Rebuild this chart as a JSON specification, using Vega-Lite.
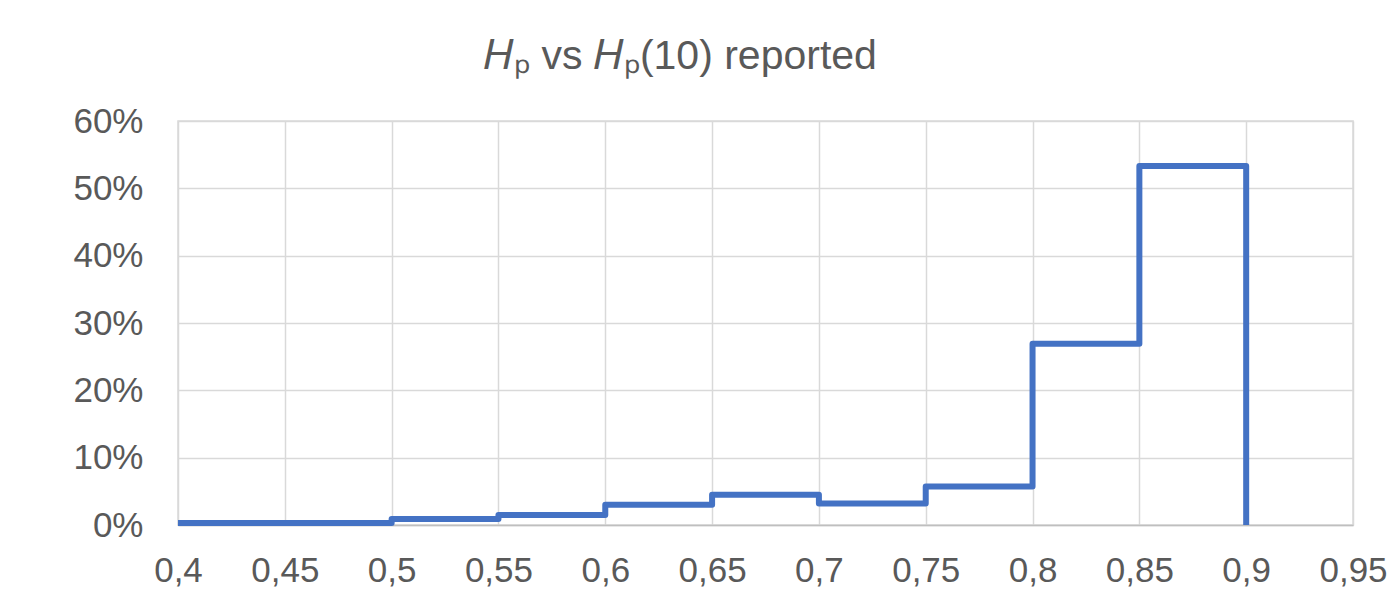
{
  "$schema": "https://vega.github.io/schema/vega-lite/v6.json",
  "width": 1175,
  "height": 404,
  "autosize": "none",
  "padding": {"left": 178, "top": 121, "right": 34, "bottom": 78},
  "background": "white",
  "title": {
    "text": "𝐻ₚ vs 𝐻ₚ(10) reported",
    "font": "Liberation Sans",
    "fontSize": 41,
    "fontWeight": "normal",
    "color": "#595959",
    "anchor": "middle",
    "frame": "group",
    "baseline": "alphabetic",
    "offset": 50,
    "dx": -85,
    "dy": 56
  },
  "data": {
    "values": [
      {"h": 0.40, "share": 0.003},
      {"h": 0.50, "share": 0.009},
      {"h": 0.55, "share": 0.015},
      {"h": 0.60, "share": 0.030},
      {"h": 0.65, "share": 0.045},
      {"h": 0.70, "share": 0.032},
      {"h": 0.75, "share": 0.057},
      {"h": 0.80, "share": 0.269},
      {"h": 0.85, "share": 0.533},
      {"h": 0.90, "share": 0.0}
    ]
  },
  "mark": {"type": "line", "interpolate": "step-after", "color": "#4472C4", "strokeWidth": 6, "strokeJoin": "round", "clip": false},
  "encoding": {
    "x": {
      "field": "h",
      "type": "quantitative",
      "scale": {"domain": [0.4, 0.95], "nice": false, "zero": false},
      "axis": {
        "title": null,
        "values": [0.4, 0.45, 0.5, 0.55, 0.6, 0.65, 0.7, 0.75, 0.8, 0.85, 0.9, 0.95],
        "labelExpr": "replace(format(datum.value, '.2~f'), '.', ',')",
        "grid": true,
        "gridColor": "#d9d9d9",
        "gridWidth": 1.5,
        "domain": true,
        "domainColor": "#bfbfbf",
        "domainWidth": 1.5,
        "ticks": false,
        "labelPadding": 28,
        "labelFont": "Liberation Sans",
        "labelFontSize": 35,
        "labelColor": "#595959",
        "labelFlush": false,
        "labelOverlap": false
      }
    },
    "y": {
      "field": "share",
      "type": "quantitative",
      "scale": {"domain": [0, 0.6], "nice": false},
      "axis": {
        "title": null,
        "values": [0, 0.1, 0.2, 0.3, 0.4, 0.5, 0.6],
        "format": ".0%",
        "grid": true,
        "gridColor": "#d9d9d9",
        "gridWidth": 1.5,
        "domain": false,
        "ticks": false,
        "labelPadding": 35,
        "labelFont": "Liberation Sans",
        "labelFontSize": 35,
        "labelColor": "#595959",
        "labelFlush": false,
        "labelOverlap": false
      }
    }
  },
  "config": {"view": {"stroke": "#d9d9d9", "strokeWidth": 1.5}}
}
